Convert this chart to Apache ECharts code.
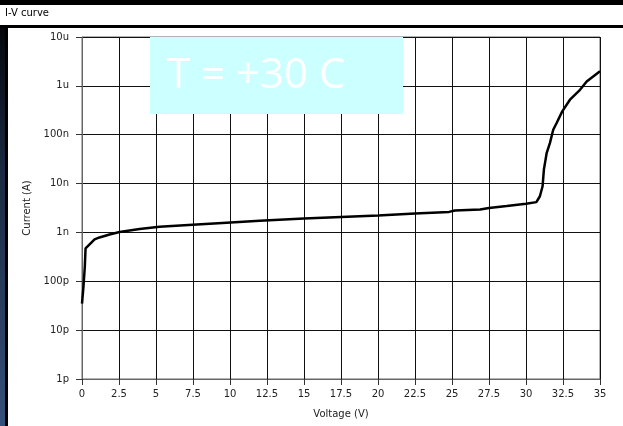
<!DOCTYPE html>
<html>
<head>
<meta charset="utf-8">
<title>I-V curve</title>
<script src="https://cdn.jsdelivr.net/npm/echarts@6/dist/echarts.min.js"></script>
<style>
  html, body { margin: 0; padding: 0; background: #000; }
  #chart { width: 623px; height: 426px; }
</style>
</head>
<body>
<div id="chart"></div>
<script>
// Measured I-V sweep at T = +30 C
const voltage = [0.0, 0.10, 0.19, 0.24, 0.85, 1.18, 1.86, 2.54, 3.89, 5.24, 7.47, 9.77, 12.0,
  15.0, 17.5, 20.0, 22.5, 24.8, 25.2, 26.9, 27.5, 28.7, 30.0, 30.7, 30.94, 31.12, 31.21,
  31.4, 31.62, 31.84, 32.07, 32.45, 32.97, 33.65, 34.1, 35.0];
const current = [3.5e-11, 7.9e-11, 2.0e-10, 4.7e-10, 7.2e-10, 7.9e-10, 9.1e-10, 1.02e-9, 1.17e-9,
  1.30e-9, 1.43e-9, 1.58e-9, 1.74e-9, 1.93e-9, 2.07e-9, 2.21e-9, 2.45e-9, 2.63e-9, 2.82e-9,
  2.95e-9, 3.16e-9, 3.47e-9, 3.85e-9, 4.17e-9, 5.5e-9, 8.8e-9, 1.95e-8, 4.27e-8, 6.8e-8,
  1.26e-7, 1.74e-7, 3.0e-7, 5.2e-7, 8.3e-7, 1.23e-6, 2.0e-6];

// Current axis decade labels, from 1 pA up to 10 uA
const currentTicks = ['1p', '10p', '100p', '1n', '10n', '100n', '1u', '10u'];
const currentMinExp = -12;

const chartTitle = 'I-V curve';
const annotation = 'T = +30 C';

const chart = echarts.init(document.getElementById('chart'), null, { renderer: 'canvas' });

const points = voltage.map((v, i) => [v, current[i]]);
const tickFont = { fontFamily: 'DejaVu Sans', fontSize: 10, color: '#222' };

chart.setOption({
  backgroundColor: '#000',
  animation: false,
  grid: {
    left: 82, top: 37, width: 518, height: 342,
    show: true, borderColor: '#666', borderWidth: 1, backgroundColor: '#fff'
  },
  xAxis: {
    type: 'value', min: 0, max: 35, interval: 2.5,
    name: 'Voltage (V)', nameLocation: 'middle', nameGap: 30,
    nameTextStyle: { fontFamily: 'DejaVu Sans', fontSize: 10, color: '#222' },
    axisLine: { show: true, lineStyle: { color: '#666', width: 1 } },
    axisTick: { show: true, inside: false, length: 6, lineStyle: { color: '#333', width: 1 } },
    axisLabel: Object.assign({ margin: 10 }, tickFont),
    splitLine: { show: true, lineStyle: { color: '#111', width: 1 } }
  },
  yAxis: {
    type: 'log', logBase: 10, min: 1e-12, max: 1e-5,
    name: 'Current (A)', nameLocation: 'middle', nameGap: 48, nameRotate: 90,
    nameTextStyle: { fontFamily: 'DejaVu Sans', fontSize: 10, color: '#222' },
    axisLine: { show: true, lineStyle: { color: '#666', width: 1 } },
    axisTick: { show: true, inside: false, length: 6, lineStyle: { color: '#333', width: 1 } },
    axisLabel: Object.assign({
      margin: 13,
      formatter: v => {
        const e = Math.round(Math.log10(v));
        return currentTicks[e - currentMinExp] || '';
      }
    }, tickFont),
    splitLine: { show: true, lineStyle: { color: '#111', width: 1 } },
    minorTick: { show: false }
  },
  graphic: [
    // left edge strip with blue gradient
    { type: 'rect', z: -10, shape: { x: 0, y: 28, width: 5, height: 398 },
      style: { fill: new echarts.graphic.LinearGradient(0, 0, 0, 1, [
        { offset: 0, color: '#05070c' }, { offset: 0.35, color: '#1a2940' },
        { offset: 1, color: '#35507a' }]) } },
    // title bar
    { type: 'rect', z: -10, shape: { x: 0, y: 5, width: 623, height: 20 }, style: { fill: '#fff' } },
    { type: 'text', z: -9, left: 5, top: 8,
      style: { text: chartTitle, fontFamily: 'DejaVu Sans', fontSize: 10, fill: '#000' } },
    // white panel behind the plot
    { type: 'rect', z: -10, shape: { x: 8, y: 28, width: 615, height: 398 }, style: { fill: '#fff' } },
    // temperature annotation
    { type: 'rect', z: 100, shape: { x: 150, y: 37, width: 253, height: 77 }, style: { fill: '#ccffff' } },
    { type: 'text', z: 101, left: 167, top: 55,
      style: { text: annotation, fontFamily: 'Open Sans', fontWeight: 400, fontSize: 42, fill: '#fff' } }
  ],
  series: [{
    type: 'line',
    data: points,
    showSymbol: false,
    smooth: false,
    lineStyle: { color: '#000', width: 2.5 },
    z: 10
  }]
});
</script>
</body>
</html>
